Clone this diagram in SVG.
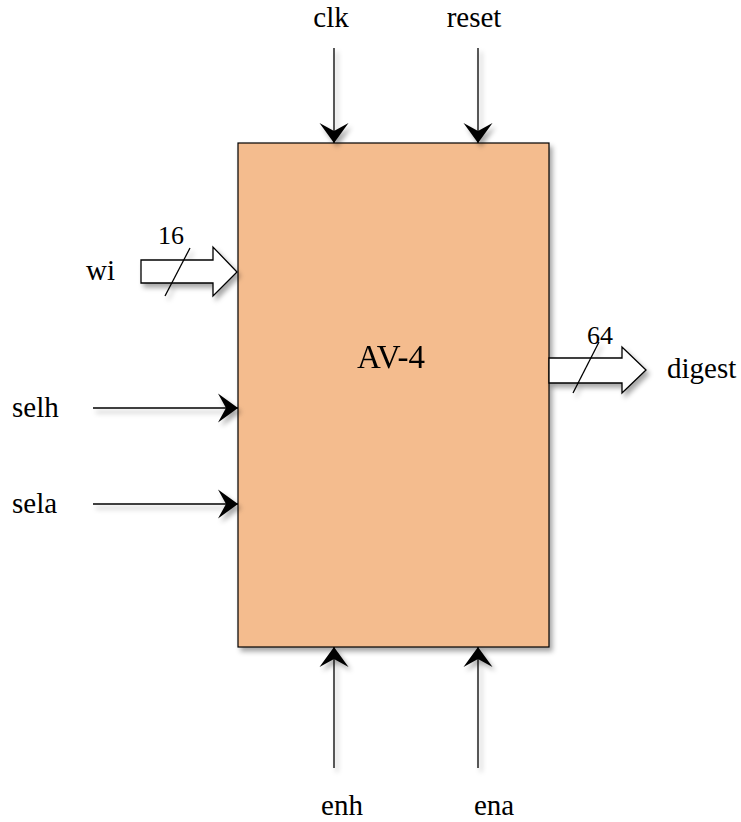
<svg xmlns="http://www.w3.org/2000/svg" width="741" height="822" viewBox="0 0 741 822">
<style>
text{font-family:"Liberation Serif","Times New Roman",serif;fill:#000}
.lbl{font-size:29px}
.num{font-size:26px}
.wire{stroke:#000;stroke-width:1.3;fill:none;marker-end:url(#ah)}
.bus{stroke:#000;stroke-width:1.3;fill:#fff}
.slash{stroke:#000;stroke-width:1.3}
</style>
<defs>
<filter id="sh" x="-20%" y="-20%" width="140%" height="140%">
<feDropShadow dx="3" dy="4" stdDeviation="2.5" flood-color="#000" flood-opacity="0.35"/>
</filter>
<marker id="ah" markerUnits="userSpaceOnUse" markerWidth="30" markerHeight="30" viewBox="-20 -15 21 30" refX="0" refY="0" orient="auto">
<path d="M0,0 L-20,-14.5 L-12,0 L-20,14.5 Z" fill="#000"/>
</marker>
</defs>
<g id="block" filter="url(#sh)">
<rect x="238" y="143" width="311" height="504" fill="#F4BC8E" stroke="#000" stroke-width="1.2"/>
<text x="391" y="368" font-size="33" text-anchor="middle">AV-4</text>
</g>
<g id="connectors" filter="url(#sh)">
<line class="wire" x1="334" y1="48" x2="334" y2="143"/>
<line class="wire" x1="478" y1="48" x2="478" y2="143"/>
<line class="wire" x1="334" y1="768" x2="334" y2="647"/>
<line class="wire" x1="478" y1="768" x2="478" y2="647"/>
<line class="wire" x1="93" y1="408" x2="238" y2="408"/>
<line class="wire" x1="93" y1="504" x2="238" y2="504"/>
<path class="bus" d="M141,260 L213,260 L213,247 L237,272 L213,296 L213,283 L141,283 Z"/>
<line class="slash" x1="165" y1="296" x2="190" y2="248"/>
<path class="bus" d="M549,358 L622,358 L622,347 L646,370 L622,393 L622,383 L549,383 Z"/>
<line class="slash" x1="573" y1="393" x2="599" y2="342"/>
</g>
<g id="labels">
<text class="lbl" x="331" y="27" text-anchor="middle">clk</text>
<text class="lbl" x="474" y="27" text-anchor="middle">reset</text>
<text class="lbl" x="86" y="280">wi</text>
<text class="num" x="158" y="244">16</text>
<text class="lbl" x="12" y="417">selh</text>
<text class="lbl" x="12" y="513">sela</text>
<text class="num" x="587" y="344">64</text>
<text class="lbl" x="667" y="378">digest</text>
<text class="lbl" x="342" y="815" text-anchor="middle">enh</text>
<text class="lbl" x="494" y="815" text-anchor="middle">ena</text>
</g>
</svg>
